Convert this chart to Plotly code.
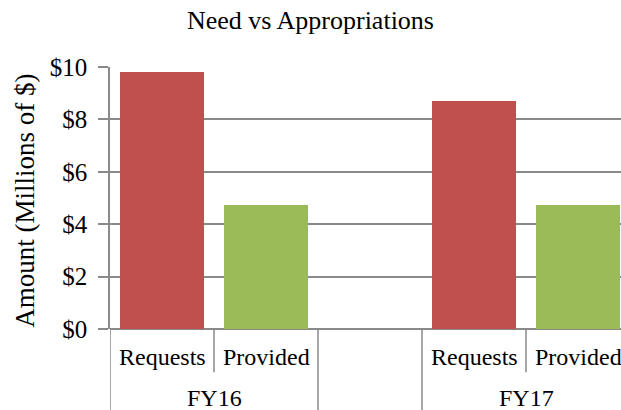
import plotly.graph_objects as go

groups = ["FY16", "", "FY17"]
slots = ["Requests", "Provided", "", "Requests", "Provided"]
slot_group = ["FY16", "FY16", "", "FY17", "FY17"]
request_values = [9.82, None, None, 8.72, None]
provided_values = [None, 4.75, None, None, 4.75]
y_ticks = [0, 2, 4, 6, 8, 10]
y_tick_labels = ["$0", "$2", "$4", "$6", "$8", "$10"]

FONT = "Liberation Serif, Times New Roman, serif"
GRID = "#8a8a8a"

xs = list(range(len(slots)))

fig = go.Figure()
fig.add_trace(go.Bar(x=xs, y=request_values, marker=dict(color="#C0504D", line=dict(width=0)),
                     width=0.81, showlegend=False, hoverinfo="skip"))
fig.add_trace(go.Bar(x=xs, y=provided_values, marker=dict(color="#9BBB59", line=dict(width=0)),
                     width=0.81, showlegend=False, hoverinfo="skip"))

# separators below the axis
shapes = []
for i in range(len(slots) + 1):
    b = i - 0.5
    left = slot_group[i - 1] if i - 1 >= 0 else None
    right = slot_group[i] if i < len(slots) else None
    long_line = (left != right)
    y_end = -0.32 if long_line else -0.165
    shapes.append(dict(type="line", xref="x", yref="paper", x0=b, x1=b, y0=0, y1=y_end,
                       line=dict(color=GRID, width=1.5)))

annotations = []
for i, s in enumerate(slots):
    if s:
        annotations.append(dict(text=s, x=i, xref="x", y=-0.107, yref="paper", showarrow=False,
                                xanchor="center", yanchor="middle",
                                font=dict(family=FONT, size=24, color="black")))
for g in groups:
    if g:
        idx = [i for i, sg in enumerate(slot_group) if sg == g]
        annotations.append(dict(text=g, x=sum(idx) / len(idx), xref="x", y=-0.265, yref="paper",
                                showarrow=False, xanchor="center", yanchor="middle",
                                font=dict(family=FONT, size=24, color="black")))
annotations.append(dict(text="Amount (Millions of $)", textangle=-90, x=-0.168, xref="paper",
                        y=0.49, yref="paper", showarrow=False, xanchor="center", yanchor="middle",
                        font=dict(family=FONT, size=27, color="black")))

fig.update_layout(
    width=621, height=410,
    margin=dict(l=110, r=0, t=67, b=81),
    paper_bgcolor="white", plot_bgcolor="white",
    barmode="overlay",
    title=dict(text="Need vs Appropriations", x=0.5, xanchor="center", y=1 - 20 / 410,
               yanchor="middle", yref="container",
               font=dict(family=FONT, size=26, color="black")),
    xaxis=dict(range=[-0.5, -0.5 + 511 / 104], showticklabels=False, showgrid=False,
               zeroline=False, showline=False, ticks="", fixedrange=True),
    yaxis=dict(range=[0, 10], tickvals=y_ticks, ticktext=y_tick_labels,
               showgrid=True, gridcolor=GRID, gridwidth=1.5,
               showline=True, linecolor=GRID, linewidth=1.5,
               ticks="outside", ticklen=10, tickcolor=GRID, tickwidth=1.5,
               ticklabelstandoff=6, fixedrange=True,
               zeroline=True, zerolinecolor=GRID, zerolinewidth=1.5,
               tickfont=dict(family=FONT, size=25, color="black")),
    shapes=shapes, annotations=annotations, bargap=0,
)

fig.write_html("out.html", config={"displayModeBar": False},
               post_script="document.body.style.margin='0';document.body.style.overflow='hidden';")
